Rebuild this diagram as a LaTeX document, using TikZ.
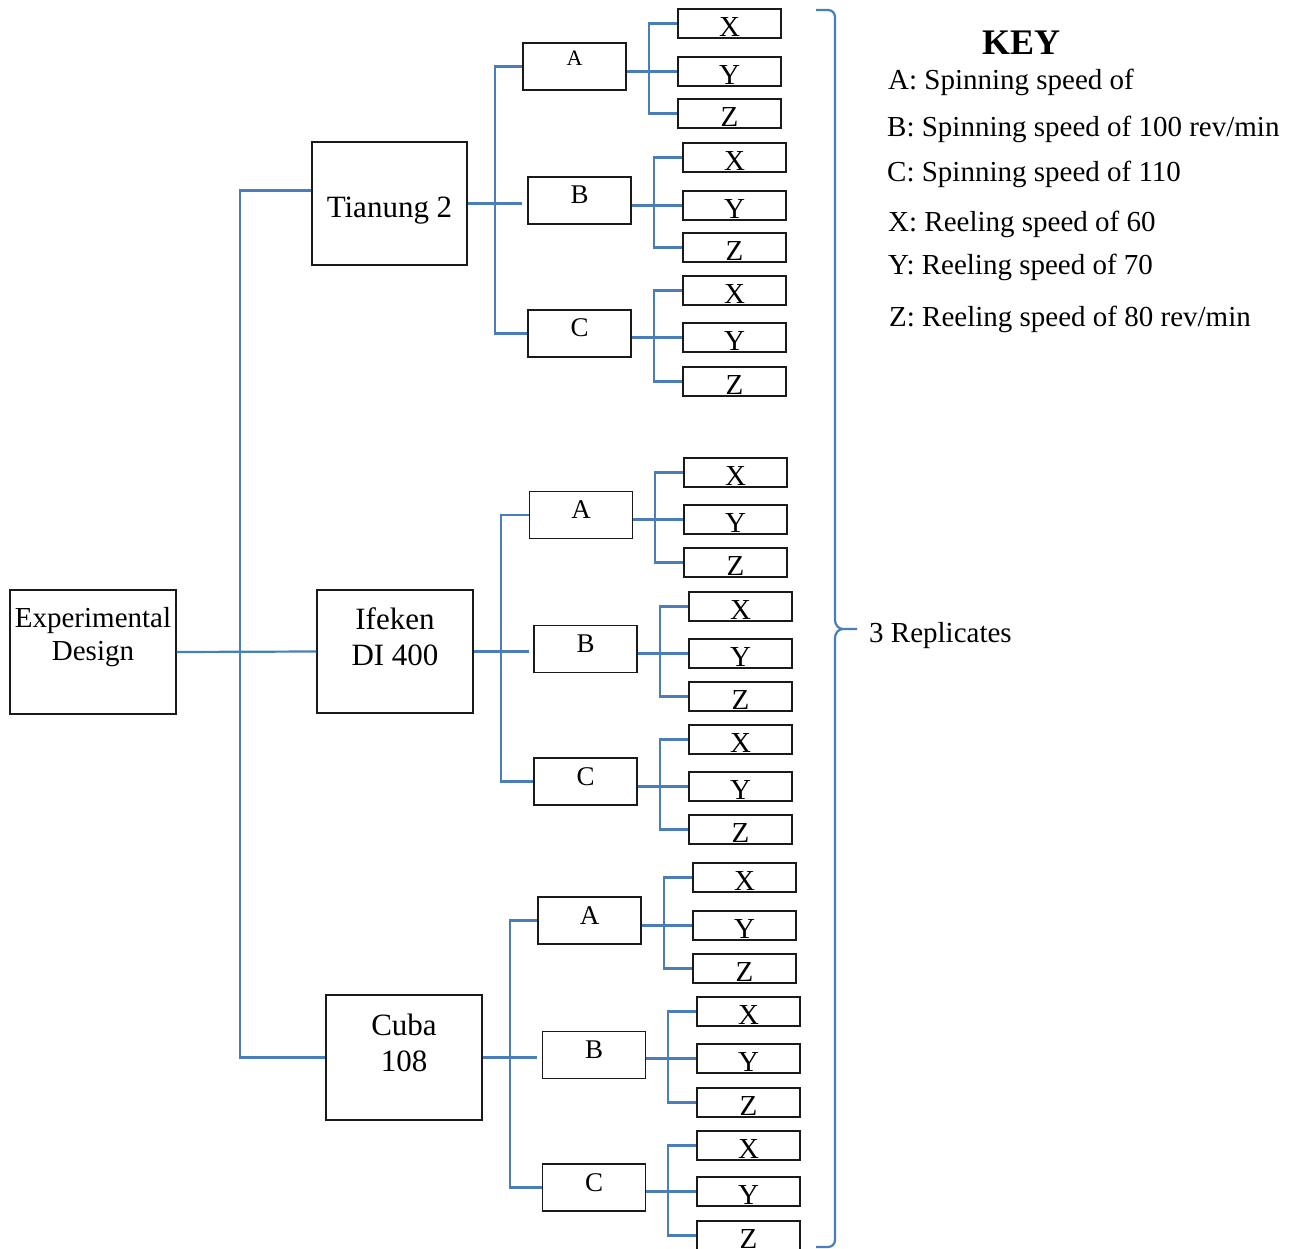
\documentclass[tikz,border=0pt]{standalone}
\usepackage{fontspec}
\setmainfont{Liberation Serif}
\usepackage{tikz}
\usetikzlibrary{calc}
\definecolor{ink}{HTML}{1A1A1A}
\definecolor{lnblue}{HTML}{4A7EBB}
\tikzset{
  link/.style={draw=lnblue,line width=2.2pt},
  bx/.style={draw=ink,line width=1.3pt,fill=white,inner sep=0pt,align=center},
  big/.style={bx,minimum width=156pt,minimum height=124pt,font=\fontsize{31}{36}\selectfont},
  mid/.style={bx,minimum width=103pt,minimum height=47pt,text height=27pt,text depth=20pt,font=\fontsize{27}{31}\selectfont},
  leaf/.style={bx,minimum width=103pt,minimum height=29pt,text height=27.5pt,text depth=1.5pt,font=\fontsize{29}{33}\selectfont},
  keyline/.style={anchor=base west,inner sep=0pt,font=\fontsize{29}{33}\selectfont},
}

\begin{document}
\begin{tikzpicture}[x=1pt,y=-1pt]
  \useasboundingbox (0,0) rectangle (1294,1249);
  % main boxes
  \node[big,minimum width=166pt,text height=70pt,text depth=54pt,font=\fontsize{29}{33}\selectfont] (ed) at (93,652) {Experimental\\Design};
  \node[big,minimum width=155pt,minimum height=123pt,text height=76pt,text depth=47pt] (t2) at (389.5,203.5) {Tianung 2};
  \node[big,minimum height=123pt,text height=75pt,text depth=48pt] (if) at (395,651.5) {Ifeken\\DI 400};
  \node[big,minimum height=125pt,text height=76pt,text depth=49pt] (cu) at (404,1057.5) {Cuba\\108};
  % spinning speed boxes
  \node[mid,text height=23pt,text depth=24pt,font=\fontsize{22}{26}\selectfont] (t2a) at (574.5,66.5) {A};
  \node[mid] (t2b) at (579.5,200.5) {B};
  \node[mid] (t2c) at (579.5,333.5) {C};
  \node[mid] (ifa) at (581,515) {A};
  \node[mid] (ifb) at (585.5,649) {B};
  \node[mid] (ifc) at (585.5,781.5) {C};
  \node[mid] (cua) at (589.5,920.5) {A};
  \node[mid] (cub) at (594,1055) {B};
  \node[mid] (cuc) at (594,1187.5) {C};
  % main tree
  \draw[link] (ed.east) -- (if.west);
  \draw[link] ([yshift=13pt]t2.west) -- ++(-71,0) |- (cu.west);
  \foreach \g/\h/\d in {t2/t2a/t2c,if/ifa/ifc,cu/cua/cuc}{
    \draw[link] (\g.east) -- (\g.east -| \h.west);
    \draw[link] (\h.west) -- (\h.west -| {$(\g.east)!0.5!(\h.west)$}) |- (\d.west);
  }
  % reeling speed boxes
  \foreach \g/\lx/\ya/\yb/\yc in {t2a/678/9/57/99,t2b/683/143/191/233,t2c/683/276/323/367,
      ifa/684/458/505/548,ifb/689/592/639/682,ifc/689/725/772/815,
      cua/693/863/911/954,cub/697/997/1044/1088,cuc/697/1131/1177/1221}{
    \node[leaf] (\g-x) at (\lx+51.5,\ya+14.5) {X};
    \node[leaf] (\g-y) at (\lx+51.5,\yb+14.5) {Y};
    \node[leaf] (\g-z) at (\lx+51.5,\yc+14.5) {Z};
    \draw[link] (\g-x.west) -- ++(-28,0) |- (\g-z.west);
    \draw[link] (\g.east |- \g-y.west) -- (\g-y.west);
  }
  % replicates brace
  \coordinate (bt) at (816,10);
  \coordinate (tip) at (857,629);
  \coordinate (bb) at (816,1247);
  \draw[link] (bt) -- (828,10) to[out=0,in=90] (835,17) -- (835,620)
    to[out=-90,in=180] (843,629) -- (tip);
  \draw[link] (843,629) to[out=180,in=90] (835,638) -- (835,1240)
    to[out=-90,in=0] (828,1247) -- (bb);
  \node[keyline,anchor=west] (rep) at (869,636) {3 Replicates};
  % key
  \node[anchor=base,inner sep=0pt,font=\fontsize{36}{40}\selectfont\bfseries] (key) at (1021,55) {KEY};
  \node[keyline] (ka) at (888,90) {A: Spinning speed of};
  \node[keyline] (kb) at (887,137) {B: Spinning speed of 100 rev/min};
  \node[keyline] (kc) at (887,182) {C: Spinning speed of 110};
  \node[keyline] (kx) at (888,232) {X: Reeling speed of 60};
  \node[keyline] (ky) at (888,275) {Y: Reeling speed of 70};
  \node[keyline] (kz) at (889,327) {Z: Reeling speed of 80 rev/min};
\end{tikzpicture}
\end{document}
